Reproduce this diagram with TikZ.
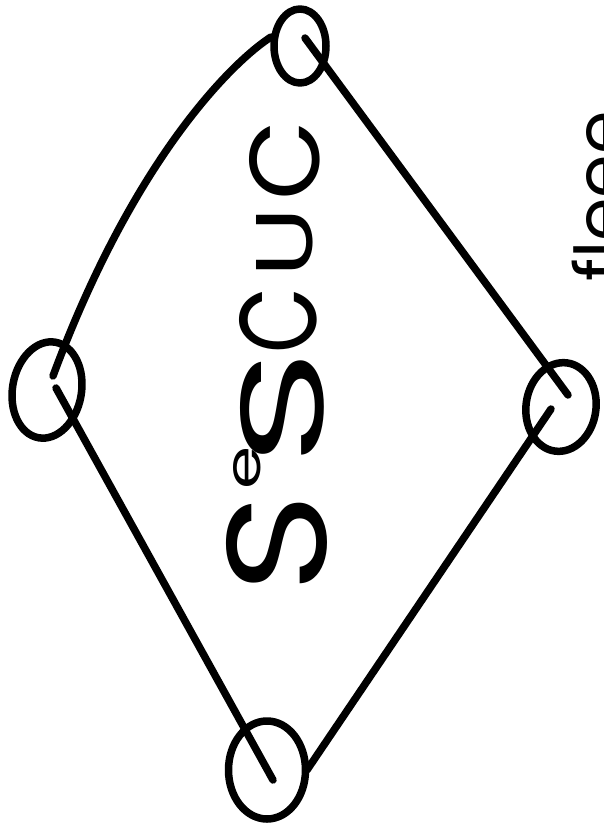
\documentclass[tikz,border=0pt]{standalone}
\usepackage{fontspec}
\setsansfont{Poppins}
\usetikzlibrary{shapes.geometric}
\begin{document}
\begin{tikzpicture}[x=1pt,y=-1pt,
  pen/.style={line width=7.5pt, line cap=round, line join=round, black},
  ring/.style={ellipse, draw, pen, inner sep=0pt},
  letter/.style={rotate=90, inner sep=0pt, font=\sffamily}]
\useasboundingbox[fill=white] (0,0) rectangle (604,832);
% circles
\node[ring, minimum width=52pt, minimum height=74pt] (top) at (300,46) {};
\node[ring, minimum width=69pt, minimum height=97pt, rotate=-10] (left) at (47,390) {};
\node[ring, minimum width=70pt, minimum height=89pt, rotate=-8] (right) at (561,407) {};
\node[ring, minimum width=77pt, minimum height=98pt] (bottom) at (267,770) {};
% line ends
\coordinate (tA) at (271,37);
\coordinate (tB) at (305,38);
\coordinate (lA) at (53,376);
\coordinate (lB) at (56,388);
\coordinate (rA) at (568,395);
\coordinate (rB) at (551,409);
\coordinate (bA) at (273,780);
\coordinate (bB) at (307,770);
% edges
\draw[pen] (tA) .. controls (235,60) and (135,155) .. (lA);
\draw[pen] (tB) -- (rA);
\draw[pen] (rB) -- (bB);
\draw[pen] (lB) -- (bA);
% main text
\node[letter] (s1) at (277,543) {\resizebox{100pt}{100pt}{S}};
\node[letter] (e1) at (247,468) {\resizebox{43pt}{27pt}{e}};
\node[letter] (s2) at (282,408) {\resizebox{117pt}{83pt}{S}};
\node[letter] (c1) at (278,320) {\resizebox{66pt}{77pt}{C}};
\node[letter] (u1) at (285,242) {\resizebox{70pt}{56pt}{U}};
\node[letter] (c2) at (285,160) {\resizebox{80pt}{70pt}{C}};
% partial text at right edge
\node[letter, anchor=base west, font=\sffamily\fontsize{70}{70}\selectfont] (side) at (625,282) {fleee};
\end{tikzpicture}
\end{document}
